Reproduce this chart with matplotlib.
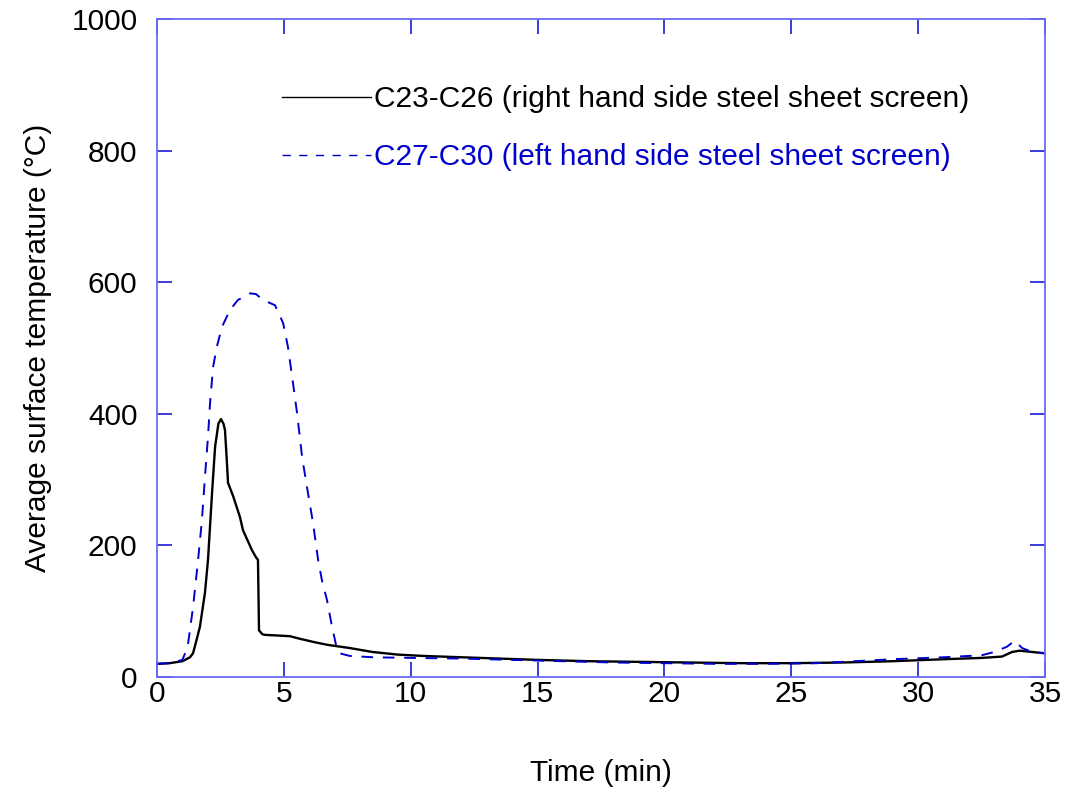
import matplotlib.pyplot as plt
from matplotlib.lines import Line2D

plt.rcParams['font.family'] = ['Liberation Sans', 'DejaVu Sans']

# C23-C26, right hand side steel sheet screen
t_right = [0, 0.5, 1.0, 1.3, 1.42, 1.55, 1.69, 1.89, 2.01, 2.17, 2.29, 2.42, 2.52,
           2.62, 2.68, 2.75, 2.8, 3.0, 3.27, 3.39, 3.6, 3.74, 3.9, 3.98, 4.02, 4.15,
           4.26, 4.8, 5.24, 5.64, 6.2, 6.7, 7.6, 8.5, 9.5, 10.5, 12, 13.5, 15, 17,
           19, 21, 23, 25, 27, 29, 31, 32.5, 33.3, 33.7, 34.0, 34.5, 35]
temp_right = [20, 21, 24, 30, 36, 55, 76, 128, 178, 280, 350, 385, 392,
              385, 375, 330, 295, 275, 243, 223, 205, 193, 182, 178, 71, 65,
              64, 63, 62, 58, 53, 49, 44, 38, 34, 32, 30, 28, 26, 24,
              23, 22, 21, 21, 22, 24, 27, 29, 31, 38, 40, 38, 36]

# C27-C30, left hand side steel sheet screen
t_left = [0, 0.5, 1.0, 1.15, 1.23, 1.42, 1.62, 1.77, 1.89, 2.01, 2.09, 2.21, 2.36,
          2.56, 2.88, 3.19, 3.67, 3.9, 4.18, 4.65, 4.97, 5.16, 5.36, 5.52, 5.72,
          5.91, 6.15, 6.35, 6.5, 6.7, 6.9, 7.05, 7.2, 7.6, 8.5, 10, 12, 14, 16,
          18, 20, 22, 24, 26, 27.5, 29, 31, 32.5, 33, 33.5, 33.8, 34.1, 34.5, 35]
temp_left = [20, 21, 26, 40, 52, 106, 178, 238, 304, 365, 416, 471, 502,
             532, 558, 573, 583, 582, 573, 565, 538, 502, 447, 401, 334,
             289, 234, 178, 147, 117, 76, 50, 36, 32, 30, 29, 28, 26, 24,
             22, 21, 20, 20, 21, 24, 27, 30, 33, 38, 46, 55, 44, 38, 36]

lab_right = 'C23-C26 (right hand side steel sheet screen)'
lab_left = 'C27-C30 (left hand side steel sheet screen)'

spine_col = '#6b6bf0'
tick_col = '#1a1ad6'
blue = '#0000cc'
fs = 21.5

fig = plt.figure(figsize=(10.77, 7.91), dpi=100)
ax = fig.add_axes([157/1077, 1 - 677/791, 888/1077, 658/791])

ax.plot(t_right, temp_right, color='black', lw=1.7)
ax.plot(t_left, temp_left, color=blue, lw=1.4, dashes=(6, 5))

ax.set_xlim(0, 35)
ax.set_ylim(0, 1000)
ax.set_xticks(range(0, 36, 5))
ax.set_yticks(range(0, 1001, 200))

for s in ax.spines.values():
    s.set_color(spine_col)
    s.set_linewidth(1.3)
ax.tick_params(direction='in', length=11, width=1.2, color=tick_col,
               top=True, right=True, labelsize=fs)
ax.tick_params(axis='x', pad=2)
ax.tick_params(axis='y', pad=14)

ax.set_xlabel('Time (min)', fontsize=fs, labelpad=37)
ax.set_ylabel('Average surface temperature (\u00b0C)', fontsize=fs, labelpad=14)

handles = [Line2D([], [], color='black', lw=1.0),
           Line2D([], [], color=blue, lw=1.0, dashes=(6, 6))]
leg = ax.legend(handles, [lab_right, lab_left], loc='upper left',
                bbox_to_anchor=(0.111, 0.94), frameon=False, fontsize=fs,
                handlelength=2.95, handletextpad=0.1, labelspacing=1.0)
leg.get_texts()[1].set_color(blue)

fig.savefig('out.png', dpi=100)
